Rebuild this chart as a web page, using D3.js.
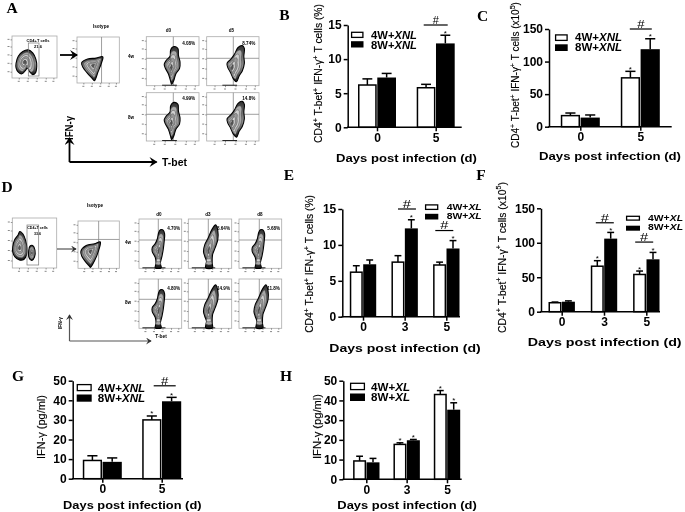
<!DOCTYPE html>
<html><head><meta charset="utf-8">
<script src="https://cdn.jsdelivr.net/npm/d3@7"></script>
<style>
html,body{margin:0;padding:0;background:#fff}
svg{display:block}
text{font-family:"Liberation Sans",Arial,sans-serif;fill:#000}
</style></head><body>
<svg id="fig" width="685" height="512" viewBox="0 0 685 512"></svg>
<script>
// ---------- bar chart values ----------
const days2 = ['0','5'];
const days3 = ['0','3','5'];
const yTicks15 = [0,5,10,15];
const yTicks150 = [0,50,100,150];
const yTicks50 = [0,10,20,30,40,50];

const b4W = [6.2,5.8],  b4WErr = [0.9,0.5],  b8W = [7.3,12.3],  b8WErr = [0.6,1.2];
const c4W = [17,75],    c4WErr = [4,10],     c8W = [14,119],    c8WErr = [4,16];
const e4W = [6.2,7.6,7.2], e4WErr = [0.9,0.9,0.4], e8W = [7.3,12.3,9.5], e8WErr = [0.6,1.2,1.1];
const f4W = [13,66,54],    f4WErr = [1,8,5],       f8W = [14.5,106,76],  f8WErr = [1.2,9,10];
const g4W = [9.3,30],   g4WErr = [2.4,2],    g8W = [8.6,39.5],  g8WErr = [2,2];
const h4W = [9.3,17.7,43], h4WErr = [2.4,0.8,2], h8W = [8.6,19.8,35.3], h8WErr = [2,0.4,3.5];

const bStars4 = [0,0], bStars8 = [0,1];
const cStars4 = [0,1], cStars8 = [0,1];
const eStars4 = [0,0,0], eStars8 = [0,1,1];
const fStars4 = [0,1,1], fStars8 = [0,1,1];
const gStars4 = [0,1], gStars8 = [0,1];
const hStars4 = [0,1,1], hStars8 = [0,1,1];

const bHash = [['5',15]];
const cHash = [['5',150]];
const eHash = [['3',15],['5',12]];
const fHash = [['3',129],['5',101]];
const gHash = [['5',47.4]];
const hHash = [];

// ---------- flow cytometry labels ----------
const panelLetters = ['A','B','C','D','E','F','G','H'];
const pctA = ['4.08%','8.74%','4.99%','14.8%'];
const pctD = ['4.70%','8.64%','5.68%','4.80%','14.9%','11.8%'];
const flowLabelsA = ['d0','d5'];
const flowLabelsD = ['d0','d3','d8'];
const rowLabels = ['4w','8w'];

// ---------- flow contour outlines (percent of plot, x right, y up) ----------
const cd4A = [[9,35],[14,52],[24,63],[36,67],[46,60],[53,45],[55,28],[52,12],[46,8],[40,14],[34,24],[30,18],[22,10],[14,14],[9,24]];
const cd4D = [[1,42],[5,56],[13,66],[17,73],[24,68],[30,55],[33,40],[32,26],[26,17],[16,16],[6,22],[1,32]];
const cd4D2 = [[37,35],[40,44],[46,45],[51,36],[50,22],[44,15],[38,20]];
const isoA = [[11,44],[25,52],[45,54],[61,57],[58,44],[50,25],[41,5],[36,10],[24,22],[14,34]];
const isoD = [[7,36],[20,48],[40,52],[54,56],[50,38],[40,16],[30,2],[26,6],[18,14],[9,26]];
const tallA = [[54,80],[60,76],[61,62],[64,48],[63,35],[56,24],[52,10],[48,3],[46,10],[42,24],[36,36],[34,44],[38,52],[45,60],[46,72],[49,78]];
const tiltA = [[62,82],[66,76],[65,60],[66,46],[62,30],[56,20],[51,8],[45,14],[40,26],[34,38],[33,46],[40,54],[47,64],[54,78]];
const tallD = [[56,78],[60,70],[59,55],[57,40],[54,25],[50,10],[52,1],[38,1],[40,10],[38,22],[31,34],[31,42],[38,50],[43,60],[46,72],[50,78]];
const tiltD = [[63,88],[68,76],[68,58],[62,42],[56,28],[55,10],[56,1],[40,1],[42,14],[38,24],[35,34],[38,48],[46,62],[54,78]];

const svg = d3.select('#fig');
const BOLD = 'bold';

// ---------- helpers ----------
function fitText(parent, parts, o){
  const t = parent.append('text')
    .attr('font-size', o.size).attr('font-weight', o.weight||'normal')
    .attr('text-anchor','middle');
  parts.forEach(p=>{
    const s = t.append('tspan').text(p.t);
    if(p.italic) s.attr('font-style','italic');
    if(p.sup) s.attr('dy', -o.size*0.38).attr('font-size', o.size*0.7);
    if(p.afterSup) s.attr('dy', o.size*0.38);
  });
  const len = t.node().getComputedTextLength();
  const k = o.w ? o.w/len : 1;
  t.attr('transform', `translate(${o.x},${o.y}) rotate(${o.rot||0}) scale(${k},1)`);
  return t;
}
const defs = svg.append('defs');
const marker = (id,color,size)=>defs.append('marker')
  .attr('id',id).attr('viewBox','0 0 10 10').attr('refX',8).attr('refY',5)
  .attr('markerWidth',size).attr('markerHeight',size).attr('markerUnits','userSpaceOnUse')
  .attr('orient','auto').append('path').attr('d','M1,0 L9,5 L1,10 L4,5 Z').attr('fill',color);
marker('arK','#000',10); marker('arG','#333',7);
const grad = defs.append('linearGradient').attr('id','dens').attr('x1',0).attr('x2',0).attr('y1',0).attr('y2',1);
[[0,'#2e2e2e'],[.3,'#6a6a6a'],[.55,'#8c8c8c'],[.8,'#555'],[1,'#111']].forEach(([o,c])=>grad.append('stop').attr('offset',o).attr('stop-color',c));

const flowG = svg.append('g').style('filter','blur(0.5px)');
const chartG = svg.append('g').style('filter','blur(0.3px)');

// ---------- letters ----------
const letterPos = [[12,13],[284.5,20],[482.5,21],[7,192],[289,180],[481,180],[18,381],[286,381]];
panelLetters.forEach((l,i)=>{
  svg.append('text').text(l).attr('x',letterPos[i][0]).attr('y',letterPos[i][1])
   .attr('text-anchor','middle').attr('font-size',15.5).attr('font-weight','bold')
   .style('font-family','"Liberation Serif",serif');
});

// ---------- flow plots ----------
const lineClosed = d3.line().curve(d3.curveCatmullRomClosed.alpha(0.5));
const levels = [1,.8,.62,.46,.3,.16];
const fills = ['url(#dens)','#a8a8a8','#cfcfcf','#9a9a9a','#d8d8d8','#555'];

function flowPlot(o){
  const g = flowG.append('g');
  const x = d3.scaleLinear([0,100],[o.x0,o.x1]);
  const y = d3.scaleLinear([0,100],[o.y1,o.y0]);
  g.append('rect').attr('x',o.x0).attr('y',o.y0).attr('width',o.x1-o.x0).attr('height',o.y1-o.y0)
    .attr('fill','#fff').attr('stroke','#aaa').attr('stroke-width',0.8);
  const decades = [15,35,55,75,92];
  const ax = d3.axisBottom(x).tickValues(decades).tickSize(1.5).tickFormat('');
  const ay = d3.axisLeft(y).tickValues(decades).tickSize(1.5).tickFormat('');
  g.append('g').attr('transform',`translate(0,${o.y1})`).call(ax).call(s=>s.select('.domain').remove()).selectAll('line').attr('stroke','#555').attr('stroke-width',.6);
  g.append('g').attr('transform',`translate(${o.x0},0)`).call(ay).call(s=>s.select('.domain').remove()).selectAll('line').attr('stroke','#555').attr('stroke-width',.6);
  g.selectAll('.dec').data(decades).join('rect').attr('x',d=>x(d)-1).attr('y',o.y1+2.8).attr('width',2).attr('height',1).attr('fill','#888');
  g.selectAll('.decy').data(decades).join('rect').attr('x',o.x0-4.5).attr('y',d=>y(d)-.5).attr('width',2).attr('height',1).attr('fill','#888');
  if(o.cx!=null) g.append('line').attr('x1',x(o.cx)).attr('x2',x(o.cx)).attr('y1',o.y0).attr('y2',o.y1).attr('stroke','#888').attr('stroke-width',.8);
  if(o.cy!=null) g.append('line').attr('x1',o.x0).attr('x2',o.x1).attr('y1',y(o.cy)).attr('y2',y(o.cy)).attr('stroke','#888').attr('stroke-width',.8);
  if(o.base) g.append('line').attr('x1',x(o.base[0])).attr('x2',x(o.base[1])).attr('y1',y(1)).attr('y2',y(1)).attr('stroke','#222').attr('stroke-width',1);
  (o.shapes||[]).forEach(sh=>{
    levels.forEach((k,i)=>{
      const pts = sh.pts.map(p=>[x(sh.f[0]+(p[0]+(o.dx||0)-sh.f[0])*k), y(sh.f[1]+(p[1]-sh.f[1])*k)]);
      g.append('path').attr('d',lineClosed(pts)).attr('fill',fills[i])
       .attr('stroke',i===0?'#000':'#333').attr('stroke-width',i===0?1.1:.4);
    });
  });
  if(o.pct) g.append('text').text(o.pct).attr('x',x(o.pctX||70)).attr('y',y(o.pctY||86)+1)
     .attr('font-size',4.6).attr('font-weight',BOLD);
  return g;
}
const smallLbl = (t,x,y,s)=>flowG.append('text').text(t).attr('x',x).attr('y',y).attr('text-anchor','middle')
  .attr('font-size',s||4.6).attr('font-weight',BOLD);

// Panel A
flowPlot({x0:12,x1:57,y0:36,y1:78,shapes:[{pts:cd4A,f:[28,38]}]});
flowG.append('rect').attr('x',28.3).attr('y',43).attr('width',10.7).attr('height',33).attr('fill','none').attr('stroke','#777').attr('stroke-width',.7);
smallLbl('CD4+T cells',38,42,4); smallLbl('21.6',38,47.5,4);
flowPlot({x0:77,x1:119.3,y0:37,y1:83,cx:58,shapes:[{pts:isoA,f:[38,38]}]});
smallLbl('Isotype',101,27.5);
const colsA = [[146.3,199,173.3],[206.7,259,233.3]];
const rowsA = [[36.7,85.7,58.3],[92.7,141,114.3]];
const shapesA = [tallA,tiltA,tallA,tiltA];
pctA.forEach((p,i)=>{
  const c = colsA[i%2], r = rowsA[Math.floor(i/2)];
  flowPlot({x0:c[0],x1:c[1],y0:r[0],y1:r[1],cx:(c[2]-c[0])/(c[1]-c[0])*100,cy:(r[1]-r[2])/(r[1]-r[0])*100,
    base:[30,58],shapes:[{pts:shapesA[i],f:[47,36]}],pct:p,pctX:68,pctY:86,dx:i%2?6:0});
});
flowLabelsA.forEach((l,i)=>smallLbl(l,[168.5,231.5][i],32));
rowLabels.forEach((l,i)=>smallLbl(l,131,[58,119][i]));
flowG.append('line').attr('x1',60).attr('x2',77).attr('y1',55).attr('y2',55).attr('stroke','#000').attr('stroke-width',1.8).attr('marker-end','url(#arK)');
flowG.append('line').attr('x1',69.5).attr('x2',69.5).attr('y1',162).attr('y2',138).attr('stroke','#000').attr('stroke-width',1.8).attr('marker-end','url(#arK)');
flowG.append('line').attr('x1',69.5).attr('x2',156.5).attr('y1',162).attr('y2',162).attr('stroke','#000').attr('stroke-width',1.8).attr('marker-end','url(#arK)');
fitText(flowG,[{t:'IFN-γ'}],{size:11,weight:BOLD,x:73,y:128,rot:-90,w:24});
fitText(flowG,[{t:'T-bet'}],{size:11,weight:BOLD,x:174.5,y:166,w:25});

// Panel D
flowPlot({x0:12.3,x1:56.7,y0:218,y1:268,shapes:[{pts:cd4D,f:[16,40]},{pts:cd4D2,f:[44,30]}]});
flowG.append('rect').attr('x',27).attr('y',225).attr('width',11.7).attr('height',40).attr('fill','none').attr('stroke','#777').attr('stroke-width',.7);
smallLbl('CD4+T cells',37.5,229,3.6); smallLbl('33.6',37.5,234.5,3.6);
flowPlot({x0:78,x1:119.3,y0:221,y1:268.3,cx:50,cy:61,shapes:[{pts:isoD,f:[30,36]}]});
smallLbl('Isotype',95,207);
const colsD = [[139,181.7,158.3],[188.3,231.7,208.3],[239,281.7,259.3]];
const rowsD = [[219,268.3,240],[279,328.3,299.3]];
const shapesD = [tallD,tiltD,tallD,tallD,tiltD,tiltD];
pctD.forEach((p,i)=>{
  const c = colsD[i%3], r = rowsD[Math.floor(i/3)];
  flowPlot({x0:c[0],x1:c[1],y0:r[0],y1:r[1],cx:(c[2]-c[0])/(c[1]-c[0])*100,cy:(r[1]-r[2])/(r[1]-r[0])*100,
    base:[8,62],shapes:[{pts:shapesD[i],f:[46,36]}],pct:p,pctX:66,pctY:80});
});
flowLabelsD.forEach((l,i)=>smallLbl(l,[159,208,260][i],216));
rowLabels.forEach((l,i)=>smallLbl(l,128,[244,304][i]));
flowG.append('line').attr('x1',57).attr('x2',76).attr('y1',249).attr('y2',249).attr('stroke','#333').attr('stroke-width',1).attr('marker-end','url(#arG)');
flowG.append('line').attr('x1',69.5).attr('x2',69.5).attr('y1',341).attr('y2',315).attr('stroke','#555').attr('stroke-width',1.2).attr('marker-end','url(#arG)');
flowG.append('line').attr('x1',69.5).attr('x2',151).attr('y1',341).attr('y2',341).attr('stroke','#555').attr('stroke-width',1.2).attr('marker-end','url(#arG)');
fitText(flowG,[{t:'IFN-γ'}],{size:4.8,weight:BOLD,x:62,y:323,rot:-90});
smallLbl('T-bet',161,338,4.8);

// ---------- bar panels ----------
const cd4Label = tail => [{t:'CD4'},{t:'+',sup:1},{t:' T-bet',afterSup:1},{t:'+',sup:1},{t:' IFN-γ',afterSup:1},{t:'+',sup:1},{t:' T cells ',afterSup:1}].concat(tail);
const pct = [{t:'(%)'}];
const x105 = [{t:'(x10'},{t:'5',sup:1},{t:')',afterSup:1}];
const ifnLabel = [{t:'IFN-γ  (pg/ml)'}];

const panels = [
 {cats:days2,a:b4W,aE:b4WErr,b:b8W,bE:b8WErr,sa:bStars4,sb:bStars8,hash:bHash,ticks:yTicks15,yMax:15,
  L:347.7,R:461.7,T:25,B:127.3,c0:377,c1:435.7,bw:19,hw:12,hdx:[0],hs:11,hk:1,
  ylab:cd4Label(pct),ylx:318,ylc:73.5,yll:139,xlc:[406.5,162],xlw:141,names:['XNL'],
  lg:{x:351,w:12.5,h:6.3,y:[31.7,41.2],tx:371,tw:46,ty:[38.5,48.5],fs:10.5}},
 {cats:days2,a:c4W,aE:c4WErr,b:c8W,bE:c8WErr,sa:cStars4,sb:cStars8,hash:cHash,ticks:yTicks150,yMax:150,
  L:549,R:671.7,T:29,B:126.7,c0:580.3,c1:640.3,bw:19.5,hw:11,hdx:[0.5],hs:11,hk:1.2,
  ylab:cd4Label(x105),ylx:515,ylc:75,yll:146,xlc:[610,160],xlw:142,names:['XNL'],
  lg:{x:555,w:12.7,h:6.7,y:[34.3,44.3],tx:575,tw:47,ty:[41,51],fs:10.5}},
 {cats:days3,a:e4W,aE:e4WErr,b:e8W,bE:e8WErr,sa:eStars4,sb:eStars8,hash:eHash,ticks:yTicks15,yMax:15,
  L:342.3,R:460,T:209,B:316.7,c0:363,c1:446.3,bw:13.2,hw:9,hdx:[2.3,-2],hs:10.5,hk:1.4,
  ylab:cd4Label(pct),ylx:309,ylc:264,yll:138,xlc:[405,352],xlw:151.5,names:['XL'],
  lg:{x:425,w:13.3,h:5.7,y:[204.3,213.8],tx:446.7,tw:35,ty:[209.6,219],fs:8.5}},
 {cats:days3,a:f4W,aE:f4WErr,b:f8W,bE:f8WErr,sa:fStars4,sb:fStars8,hash:fHash,ticks:yTicks150,yMax:150,
  L:541,R:660,T:208.3,B:311.7,c0:561.7,c1:646.3,bw:13.2,hw:9,hdx:[0.8,-2.1],hs:10.5,hk:1.4,
  ylab:cd4Label(x105),ylx:501.7,ylc:257.5,yll:151,xlc:[604.7,345.7],xlw:154,names:['XL'],
  lg:{x:626,w:14,h:5,y:[215.7,225.7],tx:648,tw:35,ty:[220.7,230.3],fs:8.5}},
 {cats:days2,a:g4W,aE:g4WErr,b:g8W,bE:g8WErr,sa:gStars4,sb:gStars8,hash:gHash,ticks:yTicks50,yMax:50,
  L:72.7,R:183,T:380.7,B:478.7,c0:102.3,c1:161.7,bw:19.5,hw:11,hdx:[3],hs:11,hk:1.2,
  ylab:ifnLabel,ylx:40.7,ylc:427,yll:64,xlc:[132.3,509],xlw:138.5,names:['XNL'],
  lg:{x:76.7,w:15,h:7.2,y:[384,394.5],tx:97.7,tw:47.5,ty:[391.5,402],fs:10.5}},
 {cats:days3,a:h4W,aE:h4WErr,b:h8W,bE:h8WErr,sa:hStars4,sb:hStars8,hash:hHash,ticks:yTicks50,yMax:50,
  L:343.3,R:461.7,T:380.7,B:479.3,c0:366.3,c1:447,bw:13.2,hw:9,hdx:[0],hs:11,hk:1,
  ylab:ifnLabel,ylx:316.7,ylc:426.5,yll:65,xlc:[407,509],xlw:139.5,names:['XL'],
  lg:{x:350,w:15,h:7.5,y:[382.7,393.5],tx:371,tw:39,ty:[390.5,400.5],fs:10.5}}
];

panels.forEach(p=>{
  const g = chartG.append('g');
  const y = d3.scaleLinear([0,p.yMax],[p.B,p.T]);
  const x = d3.scalePoint(p.cats,[p.c0,p.c1]);
  const inner = d3.scaleBand(['a','b'],[-p.bw,p.bw]).paddingInner(0.03);
  const series = [['a',p.a,p.aE,p.sa,'#fff'],['b',p.b,p.bE,p.sb,'#000']];

  series.forEach(([k,vals,errs,stars,fill])=>{
    const sg = g.append('g');
    const xc = c=>x(c)+inner(k)+inner.bandwidth()/2;
    sg.selectAll('.e').data(p.cats).join('line').attr('x1',xc).attr('x2',xc)
      .attr('y1',(c,i)=>y(vals[i])).attr('y2',(c,i)=>y(vals[i]+errs[i]))
      .attr('stroke','#000').attr('stroke-width',1.5);
    sg.selectAll('.c').data(p.cats).join('line')
      .attr('x1',c=>xc(c)-p.bw*0.26).attr('x2',c=>xc(c)+p.bw*0.26)
      .attr('y1',(c,i)=>y(vals[i]+errs[i])).attr('y2',(c,i)=>y(vals[i]+errs[i]))
      .attr('stroke','#000').attr('stroke-width',1.5);
    sg.selectAll('.b').data(p.cats).join('rect')
      .attr('x',c=>x(c)+inner(k)+(fill==='#fff'?.75:0)).attr('width',inner.bandwidth()-(fill==='#fff'?1.5:0))
      .attr('y',(c,i)=>y(vals[i])).attr('height',(c,i)=>p.B-y(vals[i]))
      .attr('fill',fill).attr('stroke','#000').attr('stroke-width',fill==='#fff'?1.5:0);
    sg.selectAll('.s').data(p.cats.filter((c,i)=>stars[i])).join('text').text('*')
      .attr('x',xc).attr('y',c=>{const i=p.cats.indexOf(c);return y(vals[i]+errs[i])+0.5;})
      .attr('text-anchor','middle').attr('font-size',8);
  });

  g.append('g').attr('transform',`translate(${p.L},0)`)
    .call(d3.axisLeft(y).tickValues(p.ticks).tickSize(4).tickPadding(2).tickSizeOuter(0))
    .call(s=>{s.selectAll('text').attr('font-size',12).attr('font-weight',BOLD).style('font-family','"Liberation Sans"');
      s.selectAll('line,path').attr('stroke','#000').attr('stroke-width',1.5);});
  g.append('g').attr('transform',`translate(0,${p.B})`)
    .call(d3.axisBottom(x).tickSize(4).tickPadding(2).tickSizeOuter(0))
    .call(s=>{s.select('.domain').remove();
      s.selectAll('text').attr('font-size',12).attr('font-weight',BOLD).style('font-family','"Liberation Sans"');
      s.selectAll('line').attr('stroke','#000').attr('stroke-width',1.5);});
  g.append('line').attr('x1',p.L-.75).attr('x2',p.R).attr('y1',p.B).attr('y2',p.B).attr('stroke','#000').attr('stroke-width',1.5);

  p.hash.forEach(([c,v],hi)=>{
    const cx = x(c)+p.hdx[hi], yy = y(v);
    g.append('line').attr('x1',cx-p.hw).attr('x2',cx+p.hw).attr('y1',yy).attr('y2',yy).attr('stroke','#000').attr('stroke-width',1.2);
    g.append('text').text('#').attr('text-anchor','middle').attr('font-size',p.hs)
      .attr('transform',`translate(${cx},${yy-1.2}) scale(${p.hk},1)`);
  });

  fitText(g,p.ylab,{size:11,x:p.ylx+3.8,y:p.ylc,rot:-90,w:p.yll}).style('stroke','#000').style('stroke-width',0.15);
  fitText(g,[{t:'Days post infection (d)'}],{size:11.5,weight:BOLD,x:p.xlc[0],y:p.xlc[1],w:p.xlw});

  ['4W+','8W+'].forEach((n,i)=>{
    g.append('rect').attr('x',p.lg.x+(i?0:.6)).attr('y',p.lg.y[i]+(i?0:.6)).attr('width',p.lg.w-(i?0:1.2)).attr('height',p.lg.h-(i?0:1.2))
      .attr('fill',i?'#000':'#fff').attr('stroke','#000').attr('stroke-width',i?0:1.3);
    fitText(g,[{t:n},{t:p.names[0],italic:1}],{size:p.lg.fs,weight:BOLD,x:p.lg.tx+p.lg.tw/2,y:p.lg.ty[i],w:p.lg.tw});
  });
});
</script>
</body></html>
